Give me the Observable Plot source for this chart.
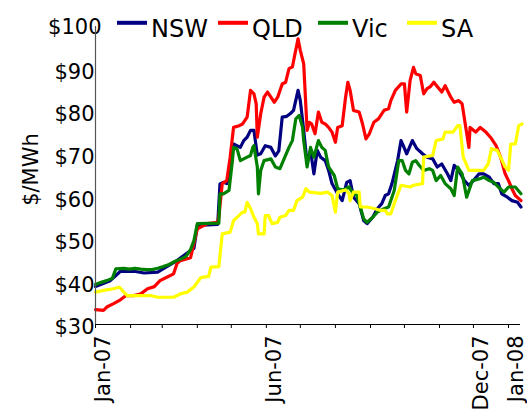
<!DOCTYPE html>
<html><head><meta charset="utf-8">
<script src="https://cdn.jsdelivr.net/npm/d3@7"></script>
<script src="https://cdn.jsdelivr.net/npm/@observablehq/plot@0.6"></script>
<style>
html,body{margin:0;padding:0;background:#fff;}
#chart{position:relative;width:527px;height:411px;overflow:hidden;background:#fff;}
#legend{position:absolute;left:0;top:0;}
</style></head><body><div id="chart"></div>
<script>
// Series
const seriesNames = ["NSW", "QLD", "Vic", "SA"];
const seriesColors = ["#000080", "#ff0000", "#008000", "#ffff00"];

// x values: days since 1 Jan 2007; y values: $/MWh
const nswDays = [0,13,18,22,34,43,55,60,72,84,87,90,108,110,113,116,119,122,125,128,131,134,137,140,143,146,150,155,159,162,165,169,172,175,179,181,184,187,190,193,196,199,203,206,209,214,218,222,225,228,233,237,240,245,249,253,256,259,262,267,270,272,275,280,284,289,293,298,302,306,311,314,317,321,326,330,334,339,343,348,352,356,359,364,368,373,376];
const nswValues = [38.9,40.3,41.5,42.5,42.5,42.1,42.3,43.1,45.0,47.4,47.9,53.3,53.5,63.0,63.4,63.1,66.2,72.4,72.0,71.6,73.2,74.0,75.6,75.6,69.8,70.1,72.0,71.6,69.6,70.8,78.7,78.9,79.5,80.3,85.0,82.6,75.6,67.8,70.9,65.4,70.9,69.3,68.5,66.2,63.1,60.7,59.1,63.4,63.8,59.9,58.4,54.4,53.7,55.2,57.2,58.4,60.3,60.7,63.1,68.5,73.2,72.0,70.1,73.2,71.3,70.1,69.3,68.9,67.0,67.7,65.4,63.8,67.4,66.2,63.8,62.7,63.8,65.4,65.4,64.6,63.1,63.1,60.7,59.9,59.1,58.7,57.6];

const qldDays = [0,7,10,16,22,27,34,40,46,52,57,63,69,72,75,84,90,99,108,109,112,116,119,122,127,130,134,137,140,142,143,146,149,152,155,158,161,165,168,171,174,176,179,181,184,187,189,191,194,197,200,203,206,209,212,214,218,221,223,225,228,233,236,239,242,246,250,255,259,261,265,270,273,275,278,281,283,287,290,293,296,299,302,306,309,314,317,321,324,327,330,331,336,340,345,349,354,358,362,365,368,371,376];
const qldValues = [33.5,33.3,34.1,34.9,35.8,36.8,36.8,37.2,38.4,38.9,40.3,41.1,41.9,44.3,45.0,45.7,52.5,53.7,54.0,55.2,63.1,63.8,69.3,76.3,76.7,77.1,78.7,85.0,84.2,81.9,74.0,79.5,83.4,84.6,83.4,82.2,83.4,86.5,86.9,90.1,90.5,93.2,97.1,94.4,91.2,75.6,77.5,77.1,74.8,79.9,77.5,77.1,76.3,75.2,72.8,76.3,76.7,83.4,86.9,85.0,80.3,79.9,77.1,73.6,74.8,77.5,78.3,80.3,80.7,82.6,85.0,86.5,86.5,79.9,87.3,90.4,88.9,88.5,84.2,85.4,85.9,86.9,85.9,84.6,86.1,83.4,82.2,82.6,81.8,76.7,71.6,76.3,75.2,76.3,75.2,74.0,72.0,69.3,65.4,63.8,61.9,60.3,59.1];

const vicDays = [0,5,10,15,18,25,30,35,40,45,50,55,60,65,70,75,80,84,87,90,109,110,113,118,121,122,125,128,131,134,137,139,140,143,144,146,149,155,159,163,166,171,174,177,180,183,184,187,190,193,197,200,203,206,211,214,219,224,227,231,234,237,240,245,249,255,259,264,268,271,274,277,280,283,286,290,295,298,301,305,309,314,317,320,324,328,333,339,343,348,352,356,361,365,371,376];
const vicValues = [39.4,39.9,40.3,40.9,43.1,43.2,43.0,43.2,43.0,42.9,42.9,43.2,43.6,44.1,44.8,45.3,46.0,47.6,49.7,53.7,53.8,60.7,60.7,61.5,68.5,71.6,71.3,68.5,68.9,69.3,69.7,71.6,72.0,67.0,60.7,66.2,68.5,68.9,67.0,66.6,68.5,71.6,73.2,78.3,79.1,76.3,73.2,67.0,71.6,69.3,73.2,71.6,70.9,67.0,65.0,61.9,61.6,62.3,61.1,60.3,57.6,54.8,54.0,55.2,56.4,57.2,57.6,61.5,68.5,68.5,66.2,65.4,68.1,68.5,67.4,66.2,66.6,66.2,63.8,65.0,63.1,61.9,60.3,67.0,65.4,59.9,63.8,64.2,64.6,63.8,63.4,62.3,61.1,62.3,62.3,60.7];

const saDays = [0,7,16,21,25,28,40,49,55,69,75,81,87,93,100,102,109,112,119,122,130,132,134,137,140,143,144,149,150,153,156,161,163,168,171,175,178,183,186,189,199,205,209,212,214,221,224,225,228,233,234,240,247,252,256,258,261,264,270,278,281,289,290,298,301,307,309,316,320,322,325,330,333,343,347,350,355,358,362,365,367,371,374,377];
const saValues = [37.6,38.0,38.4,38.8,37.6,36.8,36.8,36.8,36.4,36.4,37.2,37.6,38.8,41.0,41.3,43.5,43.6,51.3,51.7,54.4,56.4,56.4,58.7,57.2,55.2,53.7,51.3,51.3,55.6,55.6,53.7,54.0,55.2,55.6,56.8,56.8,59.1,59.9,61.9,61.1,60.8,61.1,60.3,56.4,61.1,61.6,60.8,59.1,61.1,61.1,57.6,57.6,57.2,56.8,56.8,56.0,56.0,58.4,62.7,62.3,62.7,63.1,69.3,69.7,73.2,73.6,75.2,75.2,76.7,76.7,69.3,66.2,66.2,66.2,67.7,71.3,70.9,69.3,67.0,66.2,72.4,72.4,76.7,77.1];

// Axes
const yTicks = [30, 40, 50, 60, 70, 80, 90, 100];
const yTickLabels = ["$30", "$40", "$50", "$60", "$70", "$80", "$90", "$100"];
const xTickDates = ["2007-01-01", "2007-06-01", "2007-12-01", "2008-01-01"];
const xTickLabels = ["Jan-07", "Jun-07", "Dec-07", "Jan-08"];
const yLabel = "$/MWh";
const xStart = "2007-01-01";
const xEnd = "2008-01-11T14:00Z";

const base = Date.UTC(2007, 0, 1);
const toDate = d => new Date(base + d * 864e5);
const allDays = [nswDays, qldDays, vicDays, saDays];
const allValues = [nswValues, qldValues, vicValues, saValues];
const rows = [];
allDays.forEach((days, i) => days.forEach((d, j) => rows.push({series: seriesNames[i], date: toDate(d), value: allValues[i][j]})));

const monthTicks = d3.utcMonth.range(new Date(xStart), new Date(Date.UTC(2008, 0, 2)));
const yFmt = v => yTickLabels[yTicks.indexOf(v)];
const FONT = "'DejaVu Sans', Verdana, sans-serif";

const chart = Plot.plot({
  width: 527, height: 411,
  marginLeft: 95, marginRight: 7, marginTop: 26, marginBottom: 87,
  style: {fontFamily: FONT, fontSize: "21px", color: "#000", background: "#fff", overflow: "visible"},
  x: {type: "utc", domain: [new Date(xStart), new Date(xEnd)]},
  y: {domain: [30, 100]},
  color: {domain: seriesNames, range: seriesColors},
  marks: [
    Plot.axisX({ticks: monthTicks, tickSize: 4, tickFormat: () => "", label: null, stroke: "#000"}),
    Plot.axisY({ticks: yTicks.slice(0, -1), tickSize: 0, tickPadding: 1, tickFormat: yFmt, fontSize: 21, dy: 3, label: null}),
    Plot.axisY({ticks: [100], tickSize: 0, tickPadding: 1, tickFormat: yFmt, fontSize: 21, dx: 7, dy: 1, label: null}),
    Plot.text(xTickDates, {x: d => new Date(d), text: (d, i) => xTickLabels[i], frameAnchor: "bottom", rotate: -90, textAnchor: "end", lineAnchor: "top", dy: 11, fontSize: 21}),
    Plot.text([yLabel], {text: d => d, frameAnchor: "left", rotate: -90, dx: -64, dy: -6, fontSize: 21, textAnchor: "middle", lineAnchor: "middle"}),
    Plot.line(rows, {x: "date", y: "value", z: "series", stroke: "series", strokeWidth: 3.2, strokeLinejoin: "round"}),
    Plot.ruleX([new Date(xStart)], {stroke: "#555", strokeWidth: 1.2}),
    Plot.ruleY([30], {stroke: "#000", strokeWidth: 1.2})
  ]
});
const host = document.getElementById("chart");
host.appendChild(chart);

// Legend overlay
const legendSwatchX = [117, 218, 318, 407];
const legend = d3.select(host).append("svg").attr("id", "legend").attr("width", 527).attr("height", 50)
  .style("font-family", FONT);
seriesNames.forEach((name, i) => {
  const x0 = legendSwatchX[i];
  legend.append("line").attr("x1", x0).attr("x2", x0 + 30).attr("y1", 22.8).attr("y2", 22.8)
    .attr("stroke", seriesColors[i]).attr("stroke-width", 4);
  legend.append("text").attr("x", x0 + 34).attr("y", 36.5).attr("font-size", 24).attr("fill", "#000").text(name);
});
</script>
</body></html>
